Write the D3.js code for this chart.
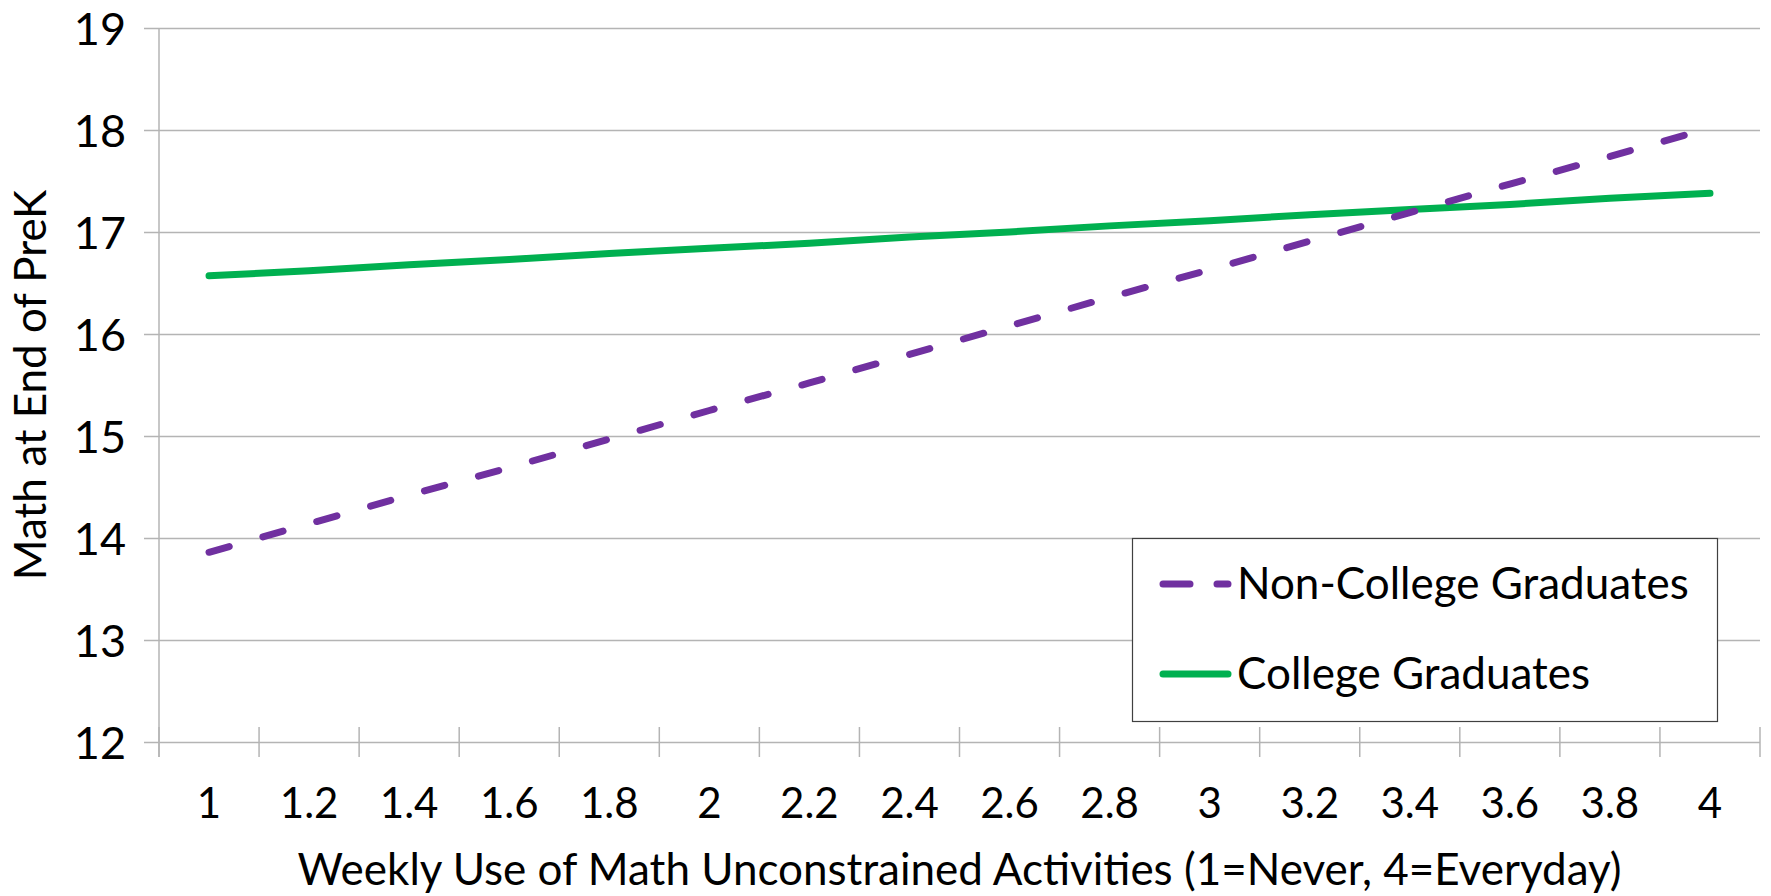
<!DOCTYPE html>
<html>
<head>
<meta charset="utf-8">
<script src="https://cdn.jsdelivr.net/npm/d3@7"></script>
<style>
  html, body { margin: 0; padding: 0; background: #fff; }
  svg { display: block; }
  text { font-family: Lato, "Open Sans", sans-serif; fill: #000; }
</style>
</head>
<body>
<svg id="chart" width="1771" height="896"></svg>
<script>
// Weekly use categories (1 = Never, 4 = Everyday)
const categories = ["1", "1.2", "1.4", "1.6", "1.8", "2", "2.2", "2.4", "2.6", "2.8", "3", "3.2", "3.4", "3.6", "3.8", "4"];

// Predicted math score at end of PreK
const nonCollegeGrads = [13.86, 14.14, 14.42, 14.69, 14.97, 15.25, 15.52, 15.80, 16.08, 16.36, 16.63, 16.91, 17.19, 17.47, 17.74, 18.02];
const collegeGrads    = [16.57, 16.62, 16.68, 16.73, 16.79, 16.84, 16.89, 16.95, 17.00, 17.06, 17.11, 17.17, 17.22, 17.27, 17.33, 17.38];

const yTicks = [12, 13, 14, 15, 16, 17, 18, 19];

const seriesNames = ["Non-College Graduates", "College Graduates"];

const svg = d3.select("#chart");

const plot = { left: 159, right: 1760, top: 28, bottom: 742 };

const x = d3.scaleBand()
  .domain(categories)
  .range([plot.left, plot.right])
  .paddingInner(0).paddingOuter(0);

const y = d3.scaleLinear()
  .domain([12, 19])
  .range([plot.bottom, plot.top]);

const gridColor = "#b4b4b4";

// horizontal gridlines, extended left as tick marks
const yAxis = d3.axisLeft(y)
  .tickValues(yTicks)
  .tickSize(-(plot.right - plot.left))
  .tickFormat(d3.format("d"))
  .tickPadding(33);

const gy = svg.append("g")
  .attr("transform", `translate(${plot.left},0)`)
  .call(yAxis);
gy.select(".domain").remove();
gy.selectAll(".tick line")
  .attr("x1", -15)
  .attr("stroke", gridColor)
  .attr("stroke-width", 1.5);
gy.selectAll(".tick text")
  .style("font-size", "45px")
  .attr("dy", "0.36em");

// vertical axis line
svg.append("line")
  .attr("x1", plot.left).attr("x2", plot.left)
  .attr("y1", plot.top).attr("y2", plot.bottom + 15)
  .attr("stroke", gridColor).attr("stroke-width", 1.5);

// category axis: ticks fall between categories
const boundaries = categories.map(c => x(c)).concat([x(categories[categories.length - 1]) + x.bandwidth()]);
svg.append("g").selectAll("line")
  .data(boundaries)
  .join("line")
  .attr("x1", d => d).attr("x2", d => d)
  .attr("y1", plot.bottom - 15).attr("y2", plot.bottom + 15)
  .attr("stroke", gridColor).attr("stroke-width", 1.5);

svg.append("g").selectAll("text")
  .data(categories)
  .join("text")
  .attr("x", d => x(d) + x.bandwidth() / 2)
  .attr("y", 818)
  .attr("text-anchor", "middle")
  .style("font-size", "42px")
  .text(d => d);

// axis titles
svg.append("text")
  .attr("x", (plot.left + plot.right) / 2)
  .attr("y", 885)
  .attr("text-anchor", "middle")
  .style("font-size", "44px")
  .text("Weekly Use of Math Unconstrained Activities (1=Never, 4=Everyday)");

svg.append("text")
  .attr("transform", `translate(46,${(plot.top + plot.bottom) / 2}) rotate(-90)`)
  .attr("text-anchor", "middle")
  .style("font-size", "44px")
  .text("Math at End of PreK");

// series lines
const cx = c => x(c) + x.bandwidth() / 2;
const line = d3.line()
  .x((d, i) => cx(categories[i]))
  .y(d => y(d));

svg.append("path")
  .datum(collegeGrads)
  .attr("d", line)
  .attr("fill", "none")
  .attr("stroke", "#00B050")
  .attr("stroke-width", 7)
  .attr("stroke-linecap", "round");

svg.append("path")
  .datum(nonCollegeGrads)
  .attr("d", line)
  .attr("fill", "none")
  .attr("stroke", "#7030A0")
  .attr("stroke-width", 7)
  .attr("stroke-linecap", "round")
  .attr("stroke-dasharray", "21,35");

// legend
const legend = svg.append("g");
legend.append("rect")
  .attr("x", 1132.5).attr("y", 538.5)
  .attr("width", 585).attr("height", 183)
  .attr("fill", "#fff")
  .attr("stroke", "#404040").attr("stroke-width", 1.2);

const legendRows = [
  { name: seriesNames[0], color: "#7030A0", dash: "27,27", y: 584 },
  { name: seriesNames[1], color: "#00B050", dash: null, y: 674 }
];
legendRows.forEach(r => {
  legend.append("line")
    .attr("x1", 1163).attr("x2", 1228)
    .attr("y1", r.y).attr("y2", r.y)
    .attr("stroke", r.color)
    .attr("stroke-width", 7)
    .attr("stroke-linecap", "round")
    .attr("stroke-dasharray", r.dash);
  legend.append("text")
    .attr("x", 1237)
    .attr("y", r.y + 15)
    .style("font-size", "44px")
    .text(r.name);
});
</script>
</body>
</html>
